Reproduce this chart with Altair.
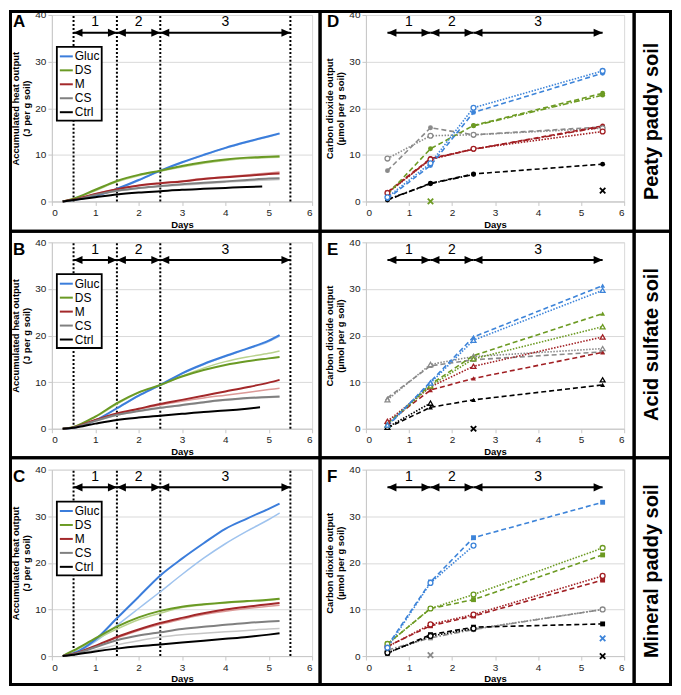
import altair as alt
import pandas as pd

FONT = "Liberation Sans"

# ---------------- categories / labels ----------------
TREATMENTS = ["Gluc", "DS", "M", "CS", "Ctrl"]
HEAT_MAIN = ["#3b7ddb", "#6a9a24", "#a3282a", "#808080", "#000000"]
HEAT_LIGHT = ["#9fc3ee", "#b9d28e", "#dc9a98", "#c6c6c6", "#555555"]
CO2_COLORS = ["#3d84d9", "#6c9a22", "#a11f23", "#8a8a8a", "#000000"]
PANEL_LETTERS = ["A", "B", "C", "D", "E", "F"]
SOILS = ["Peaty paddy soil", "Acid sulfate soil", "Mineral paddy soil"]
HEAT_TITLE = ["Accumulated heat output", "(J per g soil)"]
CO2_TITLE = ["Carbon dioxide output", "(\u00b5mol per g soil)"]
X_TITLE = "Days"

PERIOD_LABELS = ["1", "2", "3"]
PERIOD_START = [0.5, 1.5, 2.5]
PERIOD_END = [1.5, 2.5, 5.5]
PERIOD_DIVIDERS = [0.5, 1.5, 2.5, 5.5]
ARROW_LEVEL = 36.2
PERIOD_LABEL_LEVEL = 38.4

# ---------------- heat output (J per g soil) ----------------
HEAT_DAYS = [0.25, 0.5, 1.0, 1.5, 2.0, 2.5, 3.0, 3.5, 4.0, 4.5, 5.0, 5.25]

A_GLUC = [0, 0.3, 1.2, 2.7, 4.6, 6.6, 8.4, 10.0, 11.5, 12.8, 14.0, 14.6]
A_GLUC_L = [0, 0.3, 1.2, 2.6, 4.5, 6.5, 8.3, 9.9, 11.4, 12.7, 13.9, 14.5]
A_DS = [0, 0.6, 2.5, 4.4, 5.7, 6.6, 7.6, 8.4, 9.0, 9.4, 9.6, 9.7]
A_DS_L = [0, 0.5, 2.3, 4.2, 5.5, 6.5, 7.4, 8.2, 8.8, 9.2, 9.4, 9.5]
A_M = [0, 0.4, 1.6, 2.6, 3.4, 3.9, 4.3, 4.8, 5.2, 5.5, 5.9, 6.0]
A_M_L = [0, 0.4, 1.6, 2.6, 3.4, 3.9, 4.4, 4.9, 5.3, 5.7, 6.1, 6.3]
A_CS = [0, 0.3, 1.4, 2.3, 2.9, 3.3, 3.7, 4.0, 4.3, 4.6, 4.9, 5.0]
A_CS_L = [0, 0.3, 1.3, 2.2, 2.8, 3.2, 3.5, 3.8, 4.1, 4.4, 4.6, 4.7]
A_CTRL_DAYS = [0.25, 0.5, 1.0, 1.5, 2.0, 2.5, 3.0, 3.5, 4.0, 4.5, 4.85]
A_CTRL = [0, 0.3, 0.9, 1.5, 1.9, 2.2, 2.5, 2.7, 2.9, 3.1, 3.2]

B_GLUC = [0, 0.2, 1.8, 4.4, 7.1, 9.4, 11.9, 13.9, 15.6, 17.2, 18.9, 20.1]
B_GLUC_L = [0, 0.2, 1.7, 4.3, 7.0, 9.3, 11.8, 13.8, 15.5, 17.1, 18.7, 19.9]
B_DS = [0, 0.4, 2.6, 5.5, 7.8, 9.4, 11.2, 12.6, 13.7, 14.5, 15.1, 15.4]
B_DS_L = [0, 0.4, 2.5, 5.3, 7.7, 9.3, 11.3, 13.0, 14.4, 15.4, 16.2, 16.7]
B_M = [0, 0.3, 1.9, 3.3, 4.3, 5.3, 6.2, 7.1, 8.0, 8.9, 9.9, 10.5]
B_M_L = [0, 0.3, 1.9, 3.2, 4.2, 5.1, 5.9, 6.6, 7.2, 7.8, 8.4, 8.7]
B_CS = [0, 0.3, 1.7, 3.0, 3.8, 4.5, 5.1, 5.7, 6.2, 6.6, 6.8, 6.9]
B_CS_L = [0, 0.3, 1.6, 2.9, 3.7, 4.4, 5.0, 5.6, 6.1, 6.5, 6.7, 6.8]
B_CTRL_DAYS = [0.25, 0.5, 1.0, 1.5, 2.0, 2.5, 3.0, 3.5, 4.0, 4.5, 4.8]
B_CTRL = [0, 0.2, 1.1, 1.9, 2.4, 2.8, 3.2, 3.6, 3.9, 4.3, 4.6]

C_GLUC = [0, 0.6, 3.5, 8.1, 12.7, 17.3, 20.9, 24.2, 27.3, 29.5, 31.6, 32.7]
C_GLUC_L = [0, 0.5, 3.1, 6.6, 10.2, 13.8, 17.5, 21.0, 24.1, 26.8, 29.3, 30.7]
C_DS = [0, 1.2, 3.8, 6.3, 8.3, 9.7, 10.6, 11.1, 11.5, 11.8, 12.1, 12.3]
C_DS_L = [0, 1.0, 3.5, 5.8, 7.8, 9.2, 10.4, 11.0, 11.4, 11.7, 12.0, 12.2]
C_M = [0, 0.5, 2.2, 4.1, 5.7, 7.1, 8.2, 9.2, 10.0, 10.6, 11.1, 11.4]
C_M_L = [0, 0.5, 2.1, 3.9, 5.5, 6.8, 7.9, 8.9, 9.6, 10.2, 10.7, 10.9]
C_CS = [0, 0.4, 1.9, 3.4, 4.4, 5.1, 5.8, 6.3, 6.7, 7.1, 7.4, 7.5]
C_CS_L = [0, 0.3, 1.3, 2.4, 3.3, 4.1, 4.6, 4.9, 5.2, 5.5, 5.8, 5.9]
C_CTRL_DAYS = HEAT_DAYS
C_CTRL = [0, 0.3, 1.0, 1.6, 2.1, 2.5, 2.9, 3.3, 3.7, 4.1, 4.6, 4.9]

# ---------------- CO2 output (umol per g soil) ----------------
CO2_DAYS = [0.5, 1.5, 2.5, 5.5]
# (treatment, line style, values at CO2_DAYS); None = missing value
D_SERIES = [
    ("CS", "dash", [6.6, 15.8, 14.3, 16.0]),
    ("CS", "dot", [9.2, 14.1, 14.3, 15.7]),
    ("Ctrl", "dash", [0.3, 3.9, 5.9, 8.0]),
    ("Ctrl", "dashdot", [0.4, 3.8, 5.8, None]),
    ("M", "dash", [2.0, 9.2, 11.2, 16.2]),
    ("M", "dot", [1.8, 9.0, 11.3, 15.0]),
    ("M", "dashdot", [1.9, 9.1, 11.2, 16.0]),
    ("DS", "dash", [1.5, 11.3, 16.3, 23.2]),
    ("DS", "dashdot", [1.0, None, 16.2, 22.8]),
    ("Gluc", "dash", [0.6, 7.7, 19.1, 27.5]),
    ("Gluc", "dot", [0.9, 8.2, 20.1, 28.0]),
]
D_CROSSES = [("DS", 1.5, 0.0), ("Ctrl", 5.5, 2.3)]

E_SERIES = [
    ("CS", "dot", [6.2, 13.8, 15.5, 17.2]),
    ("CS", "dash", [6.6, 13.5, 14.8, 16.5]),
    ("Ctrl", "dash", [0.2, 4.6, 6.2, 9.4]),
    ("Ctrl", "dot", [0.3, 5.5, None, 10.5]),
    ("M", "dot", [1.6, 9.0, 13.4, 19.7]),
    ("M", "dash", [1.3, 8.3, 10.8, 16.4]),
    ("DS", "dash", [1.0, 9.5, 15.7, 24.7]),
    ("DS", "dot", [0.8, 9.2, 15.0, 21.9]),
    ("Gluc", "dash", [0.5, 10.1, 19.7, 30.7]),
    ("Gluc", "dot", [0.8, 9.8, 19.0, 29.7]),
]
E_CROSSES = [("Ctrl", 2.5, 0.0)]

F_SERIES = [
    ("CS", "dashdot", [1.3, 3.9, 5.7, 10.0]),
    ("CS", "dot", [1.0, None, 5.8, 10.0]),
    ("Ctrl", "dash", [0.6, 4.6, 6.2, 6.9]),
    ("Ctrl", "dot", [0.7, 4.3, 5.9, None]),
    ("M", "dot", [2.0, 6.8, 8.9, 17.2]),
    ("M", "dash", [2.1, 6.5, 8.6, 16.3]),
    ("DS", "dot", [2.6, 10.2, 13.2, 23.2]),
    ("DS", "dash", [2.6, 10.2, 12.1, 21.7]),
    ("Gluc", "dash", [2.2, 15.9, 25.4, 33.0]),
    ("Gluc", "dot", [1.8, 15.7, 23.7, None]),
]
F_CROSSES = [("CS", 1.5, 0.2), ("Gluc", 5.5, 3.8), ("Ctrl", 5.5, 0.0)]

# ---------------- layout (pixels) ----------------
HEAT_W, CO2_W, PLOT_H = 261, 259, 187
COL_GAP, ROW_GAP = 54, 41
HEAT_LEFT, CO2_LEFT = 51, 366
ROW_TOPS = [13, 241, 469]
CELL_X = [9.5, 320, 635, 671.5]
CELL_Y = [9.5, 230, 457, 684.5]

STYLE_DOMAIN = ["dash", "dot", "dashdot"]
STYLE_RANGE = [[5, 3], [1.5, 1.5], [6, 2, 1.5, 2]]
LEFT_HEAD = "M0,0L1,-0.45L1,0.45Z"
RIGHT_HEAD = "M0,0L-1,-0.45L-1,0.45Z"
X_MARK = "M-1,-1L1,1M-1,1L1,-1"


def xenc(field="day"):
    return alt.X(f"{field}:Q", title=X_TITLE,
                 scale=alt.Scale(domain=[0, 6], nice=False, zero=False),
                 axis=alt.Axis(values=[0, 1, 2, 3, 4, 5, 6], format="d"))


def yenc(title, field="val"):
    return alt.Y(f"{field}:Q", title=title,
                 scale=alt.Scale(domain=[0, 40], nice=False),
                 axis=alt.Axis(values=[0, 10, 20, 30, 40], format="d"))


def one_row(**kw):
    return pd.DataFrame([kw])


def cell_rect(x0, x1, y0, y1):
    return alt.Chart(one_row(k=0)).mark_rect(
        filled=False, fillOpacity=0, stroke="black", strokeWidth=3
    ).encode(x=alt.value(x0), x2=alt.value(x1), y=alt.value(y0), y2=alt.value(y1))


def period_layers(title):
    per = pd.DataFrame({
        "lab": PERIOD_LABELS, "start": PERIOD_START, "end": PERIOD_END,
        "mid": [(s + e) / 2 for s, e in zip(PERIOD_START, PERIOD_END)],
        "val": [ARROW_LEVEL] * 3, "lval": [PERIOD_LABEL_LEVEL] * 3,
    })
    base = alt.Chart(per)
    shaft = base.mark_rule(color="black", strokeWidth=2).encode(
        x=xenc("start"), x2="end:Q", y=yenc(title))
    lh = base.mark_point(shape=LEFT_HEAD, filled=True, size=324, color="black",
                         opacity=1, strokeWidth=0).encode(x=xenc("start"), y=yenc(title))
    rh = base.mark_point(shape=RIGHT_HEAD, filled=True, size=324, color="black",
                         opacity=1, strokeWidth=0).encode(x=xenc("end"), y=yenc(title))
    txt = base.mark_text(font=FONT, fontSize=14, color="black", baseline="middle").encode(
        x=xenc("mid"), y=yenc(title, "lval"), text="lab:N")
    return [shaft, lh, rh, txt]


def letter_layer(letter):
    return alt.Chart(one_row(lab=letter)).mark_text(
        font=FONT, fontSize=17, fontWeight="bold", align="left", baseline="alphabetic",
        color="black").encode(x=alt.value(-39), y=alt.value(12.5), text="lab:N")


def heat_panel(r, mains, lights, ctrl_days, ctrl_vals):
    top = ROW_TOPS[r]
    rows_m, rows_l = [], []
    for t, vals in zip(TREATMENTS[:4], mains):
        rows_m += [dict(treat=t, day=d, val=v) for d, v in zip(HEAT_DAYS, vals)]
    rows_m += [dict(treat="Ctrl", day=d, val=v) for d, v in zip(ctrl_days, ctrl_vals)]
    for t, vals in zip(TREATMENTS[:4], lights):
        rows_l += [dict(treat=t, day=d, val=v) for d, v in zip(HEAT_DAYS, vals)]
    dm, dl = pd.DataFrame(rows_m), pd.DataFrame(rows_l)
    div = pd.DataFrame({"day": PERIOD_DIVIDERS, "val": [0] * 4, "val2": [40] * 4})

    border = cell_rect(CELL_X[0] - HEAT_LEFT, CELL_X[1] - HEAT_LEFT,
                       CELL_Y[r] - top, CELL_Y[r + 1] - top)
    dividers = alt.Chart(div).mark_rule(color="black", strokeWidth=2, strokeDash=[2, 2]).encode(
        x=xenc(), y=yenc(HEAT_TITLE), y2="val2:Q")
    light = [
        alt.Chart(dl).transform_filter(alt.datum.treat == t).mark_line(
            strokeWidth=1.5, interpolate="monotone", color=c).encode(
            x=xenc(), y=yenc(HEAT_TITLE))
        for t, c in zip(TREATMENTS[:4], HEAT_LIGHT)
    ]
    main = alt.Chart(dm).mark_line(strokeWidth=2, interpolate="monotone").encode(
        x=xenc(), y=yenc(HEAT_TITLE),
        color=alt.Color("treat:N", title=None,
                        scale=alt.Scale(domain=TREATMENTS, range=HEAT_MAIN),
                        legend=alt.Legend(orient="none", legendX=5, legendY=32,
                                          symbolType="stroke", symbolStrokeWidth=2,
                                          symbolSize=169, labelFontSize=12, labelFont=FONT,
                                          labelColor="black", labelOffset=1, rowPadding=0,
                                          padding=2, strokeColor="black", fillColor="white")))
    layers = [border, dividers] + light + [main] + period_layers(HEAT_TITLE) + \
        [letter_layer(PANEL_LETTERS[r])]
    return alt.layer(*layers).properties(width=HEAT_W, height=PLOT_H)


def co2_panel(r, series, crosses, filled_shape, open_shape):
    top = ROW_TOPS[r]
    rows = []
    for i, (t, style, vals) in enumerate(series):
        seg = 0
        for d, v in zip(CO2_DAYS, vals):
            if v is None:
                seg += 1
                continue
            rows.append(dict(sid=f"{i}-{seg}", treat=t, style=style, day=d, val=v))
    df = pd.DataFrame(rows)
    cx = pd.DataFrame([dict(treat=t, day=d, val=v) for t, d, v in crosses])
    col = alt.Color("treat:N", scale=alt.Scale(domain=TREATMENTS, range=CO2_COLORS), legend=None)

    border1 = cell_rect(CELL_X[1] - CO2_LEFT, CELL_X[2] - CO2_LEFT, CELL_Y[r] - top, CELL_Y[r + 1] - top)
    border2 = cell_rect(CELL_X[2] - CO2_LEFT, CELL_X[3] - CO2_LEFT, CELL_Y[r] - top, CELL_Y[r + 1] - top)
    soil = alt.Chart(one_row(lab=SOILS[r])).mark_text(
        font=FONT, fontSize=20, fontWeight="bold", angle=270, align="center",
        baseline="middle", color="black").encode(
        x=alt.value((CELL_X[2] + CELL_X[3]) / 2 - CO2_LEFT),
        y=alt.value((CELL_Y[r] + CELL_Y[r + 1]) / 2 - top), text="lab:N")

    base = alt.Chart(df)
    lines = base.mark_line(strokeWidth=1.6).encode(
        x=xenc(), y=yenc(CO2_TITLE), color=col, detail="sid:N",
        strokeDash=alt.StrokeDash("style:N", scale=alt.Scale(domain=STYLE_DOMAIN, range=STYLE_RANGE),
                                  legend=None))
    pts_f = base.transform_filter(alt.datum.style != "dot").mark_point(
        shape=filled_shape, filled=True, size=24, opacity=1).encode(
        x=xenc(), y=yenc(CO2_TITLE), color=col)
    pts_o = base.transform_filter(alt.datum.style == "dot").mark_point(
        shape=open_shape, filled=False, size=24, opacity=1, strokeWidth=1.3, fill="white").encode(
        x=xenc(), y=yenc(CO2_TITLE), color=col)
    xs = alt.Chart(cx).mark_point(shape=X_MARK, filled=False, size=30, strokeWidth=1.8,
                                  opacity=1).encode(x=xenc(), y=yenc(CO2_TITLE), color=col)
    layers = [border1, border2, soil, lines, pts_f, pts_o, xs] + period_layers(CO2_TITLE) + \
        [letter_layer(PANEL_LETTERS[3 + r])]
    return alt.layer(*layers).properties(width=CO2_W, height=PLOT_H)


heat_panels = [
    heat_panel(0, [A_GLUC, A_DS, A_M, A_CS], [A_GLUC_L, A_DS_L, A_M_L, A_CS_L], A_CTRL_DAYS, A_CTRL),
    heat_panel(1, [B_GLUC, B_DS, B_M, B_CS], [B_GLUC_L, B_DS_L, B_M_L, B_CS_L], B_CTRL_DAYS, B_CTRL),
    heat_panel(2, [C_GLUC, C_DS, C_M, C_CS], [C_GLUC_L, C_DS_L, C_M_L, C_CS_L], C_CTRL_DAYS, C_CTRL),
]
co2_panels = [
    co2_panel(0, D_SERIES, D_CROSSES, "circle", "circle"),
    co2_panel(1, E_SERIES, E_CROSSES, "triangle-up", "triangle-up"),
    co2_panel(2, F_SERIES, F_CROSSES, "square", "circle"),
]

panels = []
for h, c in zip(heat_panels, co2_panels):
    panels += [h, c]

chart = alt.concat(*panels, columns=2, spacing={"row": ROW_GAP, "column": COL_GAP},
                   bounds="flush").resolve_scale(
    color="independent", strokeDash="independent"
).resolve_legend(color="independent").properties(
    padding=0, background="white"
).configure(font=FONT).configure_view(
    stroke="#d9d9d9", strokeWidth=1
).configure_axis(
    labelFont=FONT, titleFont=FONT, labelFontSize=10, labelColor="#222222",
    titleFontSize=9.5, titleFontWeight="bold", titleColor="black",
    domainColor="#c8c8c8", tickColor="#c8c8c8", tickSize=4, labelPadding=2,
    gridColor="#d9d9d9"
).configure_axisX(grid=False, titlePadding=2).configure_axisY(
    grid=True, titlePadding=3, titleLineHeight=11
).configure_legend(strokeWidth=1.8)

chart.save("out.html", embed_options={"renderer": "svg", "actions": False})
